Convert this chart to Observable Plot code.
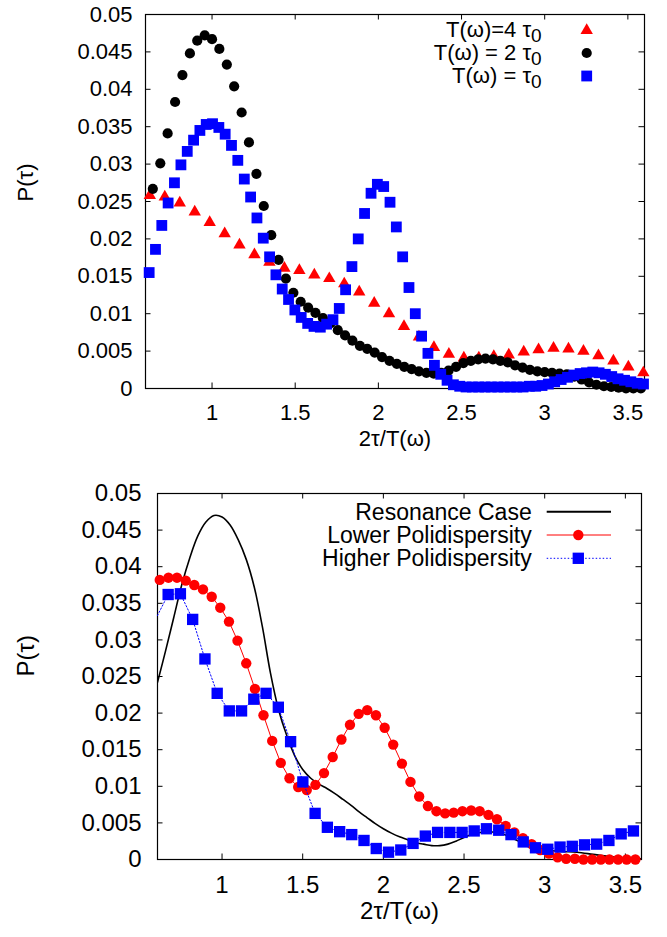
<!DOCTYPE html>
<html><head><meta charset="utf-8">
<script src="https://cdn.jsdelivr.net/npm/d3@7"></script>
<script src="https://cdn.jsdelivr.net/npm/@observablehq/plot@0.6"></script>
<style>
html,body{margin:0;padding:0;background:#fff;}
#chart svg{display:block;}
</style></head><body><div id="chart"></div>
<script>
// ---------- Top panel data ----------
const topLegend = ["T(ω)=4 τ", "T(ω) = 2 τ", "T(ω) = τ"];
const topRedX = [0.626,0.716,0.806,0.896,0.986,1.076,1.165,1.255,1.345,1.435,1.525,1.615,1.705,1.795,1.885,1.975,2.064,2.154,2.244,2.334,2.424,2.514,2.604,2.694,2.784,2.874,2.963,3.053,3.143,3.233,3.323,3.413,3.503,3.593];
const topRedY = [0.0258,0.0256,0.0248,0.0236,0.0222,0.0207,0.0192,0.0179,0.0169,0.0161,0.0158,0.0152,0.0147,0.0140,0.0129,0.0114,0.0100,0.0083,0.0069,0.0055,0.0046,0.0041,0.0041,0.0043,0.0045,0.0049,0.0052,0.0054,0.0053,0.0050,0.0044,0.0037,0.0029,0.0021];
const topBlackX = [0.644,0.689,0.733,0.778,0.822,0.867,0.911,0.956,1.000,1.044,1.089,1.133,1.178,1.222,1.267,1.311,1.356,1.400,1.444,1.489,1.533,1.578,1.622,1.667,1.711,1.756,1.800,1.844,1.889,1.933,1.978,2.022,2.067,2.111,2.156,2.200,2.244,2.289,2.333,2.378,2.422,2.467,2.511,2.556,2.600,2.644,2.689,2.733,2.778,2.822,2.867,2.911,2.956,3.000,3.044,3.089,3.133,3.178,3.222,3.267,3.311,3.356,3.400,3.444,3.489,3.533,3.578];
const topBlackY = [0.0267,0.0301,0.0341,0.0383,0.0419,0.0448,0.0465,0.0472,0.0467,0.0454,0.0433,0.0404,0.0369,0.0329,0.0287,0.0244,0.0205,0.0172,0.0147,0.0128,0.0116,0.0108,0.0101,0.0094,0.0087,0.0078,0.0071,0.0064,0.0057,0.0053,0.0048,0.0042,0.0037,0.0033,0.0029,0.0026,0.0023,0.0021,0.0020,0.0021,0.0024,0.0029,0.0034,0.0037,0.0039,0.0040,0.0039,0.0037,0.0035,0.0031,0.0028,0.0025,0.0023,0.0022,0.0021,0.0020,0.0019,0.0016,0.0012,0.0008,0.0005,0.0003,0.0002,0.0001,0,0,0];
const topBlueX = [0.622,0.660,0.698,0.736,0.774,0.813,0.851,0.889,0.927,0.965,1.003,1.041,1.079,1.117,1.155,1.194,1.232,1.270,1.308,1.346,1.384,1.422,1.460,1.498,1.536,1.575,1.613,1.651,1.689,1.727,1.765,1.803,1.841,1.879,1.917,1.956,1.994,2.032,2.070,2.108,2.146,2.184,2.222,2.260,2.298,2.337,2.375,2.413,2.451,2.489,2.527,2.565,2.603,2.641,2.679,2.718,2.756,2.794,2.832,2.870,2.908,2.946,2.984,3.022,3.060,3.099,3.137,3.175,3.213,3.251,3.289,3.327,3.365,3.403,3.441,3.480,3.518,3.556,3.594];
const topBlueY = [0.0155,0.0186,0.0218,0.0248,0.0275,0.0299,0.0317,0.0332,0.0345,0.0353,0.0354,0.0349,0.0340,0.0325,0.0305,0.0280,0.0256,0.0228,0.0201,0.0176,0.0152,0.0133,0.0119,0.0105,0.0095,0.0087,0.0083,0.0082,0.0086,0.0092,0.0107,0.0132,0.0163,0.0200,0.0234,0.0261,0.0273,0.0270,0.0249,0.0216,0.0176,0.0135,0.0100,0.0070,0.0047,0.0031,0.0019,0.0011,0.0005,0.0003,0.0002,0.0002,0.0002,0.0002,0.0002,0.0002,0.0002,0.0002,0.0002,0.0002,0.0003,0.0003,0.0004,0.0006,0.0009,0.0012,0.0015,0.0018,0.0020,0.0021,0.0022,0.0021,0.0019,0.0016,0.0013,0.0011,0.0009,0.0007,0.0006];

// ---------- Bottom panel data ----------
const botLegend = ["Resonance Case", "Lower Polidispersity", "Higher Polidispersity"];
const resX = [0.60,0.65,0.70,0.75,0.80,0.85,0.90,0.95,1.00,1.05,1.10,1.15,1.20,1.25,1.30,1.35,1.40,1.45,1.50,1.55,1.60,1.65,1.70,1.75,1.80,1.85,1.90,1.95,2.00,2.05,2.10,2.15,2.20,2.25,2.30,2.35,2.40,2.45,2.50,2.55,2.60,2.65,2.70,2.75,2.80,2.85,2.90,2.95,3.00,3.10,3.20,3.30,3.40,3.50,3.60];
const resY = [0.0242,0.0285,0.0330,0.0375,0.0412,0.0442,0.0461,0.0470,0.0468,0.0457,0.0437,0.0410,0.0372,0.0318,0.0255,0.0205,0.0170,0.0142,0.0123,0.0111,0.0103,0.0097,0.0090,0.0082,0.0074,0.0065,0.0057,0.0049,0.0042,0.0036,0.0031,0.0027,0.0023,0.0021,0.0019,0.0019,0.0021,0.0025,0.0030,0.0034,0.0037,0.0038,0.0037,0.0034,0.0029,0.0024,0.0019,0.0015,0.0013,0.0011,0.0010,0.0007,0.0004,0.0002,0.0001];
const lowX = [0.614,0.668,0.721,0.775,0.828,0.882,0.936,0.989,1.043,1.096,1.150,1.204,1.257,1.311,1.364,1.418,1.472,1.525,1.579,1.632,1.686,1.740,1.793,1.847,1.900,1.954,2.008,2.061,2.115,2.168,2.222,2.276,2.329,2.383,2.436,2.490,2.544,2.597,2.651,2.704,2.758,2.812,2.865,2.919,2.972,3.026,3.080,3.133,3.187,3.240,3.294,3.348,3.401,3.455,3.508,3.562];
const lowY = [0.0382,0.0385,0.0385,0.0381,0.0375,0.0369,0.0359,0.0344,0.0325,0.0299,0.0268,0.0233,0.0197,0.0162,0.0132,0.0111,0.0099,0.0095,0.0102,0.0118,0.0140,0.0164,0.0184,0.0199,0.0204,0.0197,0.0180,0.0157,0.0131,0.0106,0.0086,0.0073,0.0066,0.0063,0.0064,0.0066,0.0067,0.0066,0.0061,0.0055,0.0046,0.0037,0.0029,0.0021,0.0013,0.0008,0.0003,0.0001,0.0001,0,0,0,0,0,0,0];
const highX = [0.590,0.666,0.742,0.818,0.894,0.970,1.045,1.121,1.197,1.273,1.349,1.425,1.501,1.577,1.653,1.729,1.804,1.880,1.956,2.032,2.108,2.184,2.260,2.336,2.412,2.488,2.563,2.639,2.715,2.791,2.867,2.943,3.019,3.095,3.171,3.247,3.322,3.398,3.474,3.550];
const highY = [0.0329,0.0362,0.0363,0.0328,0.0274,0.0227,0.0203,0.0203,0.0219,0.0227,0.0208,0.0161,0.0106,0.0063,0.0044,0.0038,0.0034,0.0026,0.0015,0.0010,0.0013,0.0022,0.0032,0.0037,0.0037,0.0037,0.0039,0.0042,0.0040,0.0034,0.0024,0.0016,0.0014,0.0017,0.0018,0.0020,0.0021,0.0026,0.0035,0.0039];

// ---------- Axis ticks ----------
const xTicks = [1, 1.5, 2, 2.5, 3, 3.5];
const yTicks = [0, 0.005, 0.01, 0.015, 0.02, 0.025, 0.03, 0.035, 0.04, 0.045, 0.05];
const xDomain = [0.6, 3.6];
const yDomain = [0, 0.05];
const xLabel = "2τ/T(ω)";
const yLabel = "P(τ)";

const rows = (X, Y) => X.map((x, i) => ({x, y: Y[i]}));
const inDomain = d => d.x >= xDomain[0] && d.x <= xDomain[1];
const FONT = "'Liberation Sans', Arial, Helvetica, sans-serif";

function panel({width, height, mL, mR, mT, mB, fs, padX, padY, labDy, labDx, marks}) {
  const fH = height - mT - mB, fW = width - mL - mR, tk = 5.5;
  return Plot.plot({
    width, height, marginLeft: mL, marginRight: mR, marginTop: mT, marginBottom: mB,
    style: {fontFamily: FONT, fontSize: fs + "px", color: "black", background: "white", overflow: "visible"},
    x: {domain: xDomain, label: null},
    y: {domain: yDomain, label: null},
    marks: [
      Plot.frame({stroke: "black", strokeWidth: 1.2}),
      Plot.ruleX(xTicks, {x: d => d, insetTop: fH - tk, stroke: "black"}),
      Plot.ruleX(xTicks, {x: d => d, insetBottom: fH - tk, stroke: "black"}),
      Plot.ruleY(yTicks, {y: d => d, insetRight: fW - tk, stroke: "black"}),
      Plot.ruleY(yTicks, {y: d => d, insetLeft: fW - tk, stroke: "black"}),
      Plot.axisX(xTicks, {tickSize: 0, tickPadding: padX, label: null, tickFormat: d => String(d), fontSize: fs}),
      Plot.axisY(yTicks, {tickSize: 0, tickPadding: padY, label: null, tickFormat: d => String(d), fontSize: fs}),
      Plot.text([xLabel], {frameAnchor: "bottom", dy: labDy, fontSize: fs, fill: "black"}),
      Plot.text([yLabel], {frameAnchor: "left", dx: labDx, rotate: -90, fontSize: fs, fill: "black"}),
      ...marks
    ]
  });
}

const sym = (type, r) => d3.symbol(type, Math.PI * r * r)();

// ---------- Top ----------
const red = rows(topRedX, topRedY).filter(inDomain);
const blk = rows(topBlackX, topBlackY).filter(inDomain);
const blu = rows(topBlueX, topBlueY).filter(inDomain);
const topPlot = panel({
  width: 667, height: 468, mL: 145, mR: 23, mT: 14, mB: 80, fs: 22, padX: 16, padY: 13, labDy: 57, labDx: -119.5,
  marks: [
    Plot.dot(red, {x: "x", y: "y", symbol: "triangle", r: 4.6, fill: "red", stroke: "none"}),
    Plot.dot(blk, {x: "x", y: "y", r: 5.1, fill: "black", stroke: "none"}),
    Plot.dot(blu, {x: "x", y: "y", symbol: "square", r: 6.1, fill: "blue", stroke: "none"})
  ]
});
{
  const g = d3.select(topPlot).append("g").attr("font-family", FONT).attr("font-size", 22);
  const spec = [[d3.symbolTriangle, 4.6, "red", 29, 30.5], [d3.symbolCircle, 5.1, "black", 52, 53], [d3.symbolSquare, 6.1, "blue", 75, 76]];
  spec.forEach(([s, r, c, ty, sy], i) => {
    const t = g.append("text").attr("x", 541.7).attr("y", ty).attr("dy", "0.35em").attr("text-anchor", "end").attr("fill", "black");
    t.append("tspan").text(topLegend[i]);
    t.append("tspan").attr("font-size", 19).attr("dy", 5).text("0");
    g.append("path").attr("d", sym(s, r)).attr("fill", c).attr("transform", `translate(586.7,${sy})`);
  });
}

// ---------- Bottom ----------
const res = rows(resX, resY);
const low = rows(lowX, lowY);
const high = rows(highX, highY);
const botPlot = panel({
  width: 667, height: 469, mL: 157, mR: 26, mT: 25, mB: 78, fs: 24, padX: 16, padY: 16, labDy: 59, labDx: -131,
  marks: [
    Plot.line(res, {x: "x", y: "y", stroke: "black", strokeWidth: 1.6, curve: "catmull-rom", clip: true}),
    Plot.line(low, {x: "x", y: "y", stroke: "red", strokeWidth: 1, clip: true}),
    Plot.dot(low.filter(inDomain), {x: "x", y: "y", r: 5.2, fill: "red", stroke: "none"}),
    Plot.line(high, {x: "x", y: "y", stroke: "blue", strokeWidth: 1, strokeDasharray: "1.5,2", clip: true}),
    Plot.dot(high.filter(inDomain), {x: "x", y: "y", symbol: "square", r: 6.4, fill: "blue", stroke: "none"})
  ]
});
{
  const g = d3.select(botPlot).append("g").attr("font-family", FONT).attr("font-size", 23);
  const ys = [43.7, 67, 90.3];
  const styles = [
    {stroke: "black", w: 2, dash: null, s: null},
    {stroke: "red", w: 1, dash: null, s: [d3.symbolCircle, 5.2]},
    {stroke: "blue", w: 1, dash: "1.5,2", s: [d3.symbolSquare, 6.4]}
  ];
  styles.forEach((st, i) => {
    g.append("text").attr("x", 531.7).attr("y", ys[i]).attr("dy", "0.35em").attr("text-anchor", "end").attr("fill", "black").text(botLegend[i]);
    g.append("line").attr("x1", 546.7).attr("x2", 611).attr("y1", ys[i]).attr("y2", ys[i])
      .attr("stroke", st.stroke).attr("stroke-width", st.w).attr("stroke-dasharray", st.dash);
    if (st.s) g.append("path").attr("d", sym(st.s[0], st.s[1])).attr("fill", st.stroke).attr("transform", `translate(578.3,${ys[i]})`);
  });
}

document.getElementById("chart").append(topPlot, botPlot);
</script></body></html>
